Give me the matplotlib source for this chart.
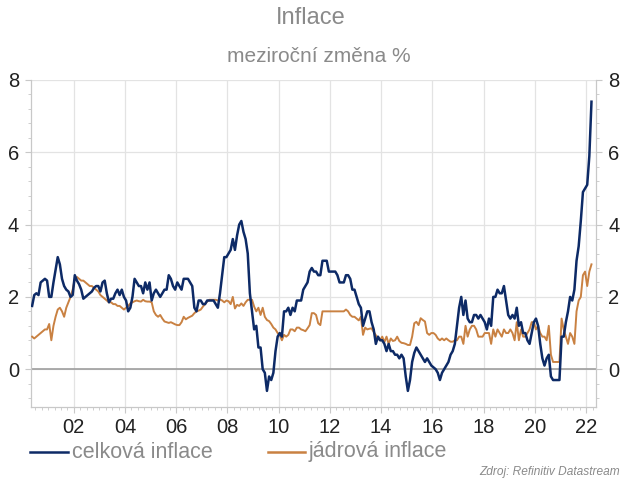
import numpy as np
import matplotlib
matplotlib.use('Agg')
import matplotlib.pyplot as plt
from matplotlib.ticker import MultipleLocator

plt.rcParams['font.family'] = ['Liberation Sans', 'DejaVu Sans']

# monthly data, May 2000 - Mar 2022 (y/y %)
start_year, start_month = 2000, 5

headline = [
  1.75, 2.05, 2.1, 2.05, 2.4, 2.45, 2.5, 2.45,                      # 2000 (May-Dec)
  2.0, 2.0, 2.4, 2.75, 3.1, 2.9, 2.5, 2.3, 2.2, 2.15, 2.0, 2.05,    # 2001
  2.6, 2.45, 2.35, 2.2, 1.95, 2.0, 2.05, 2.1, 2.15, 2.25, 2.3, 2.3, # 2002
  2.15, 2.4, 2.45, 2.1, 1.85, 1.95, 1.95, 2.1, 2.2, 2.05, 2.2, 2.0, # 2003
  1.9, 1.6, 1.7, 2.0, 2.5, 2.4, 2.3, 2.3, 2.1, 2.4, 2.2, 2.4,       # 2004
  1.9, 2.1, 2.2, 2.1, 2.0, 2.1, 2.2, 2.2, 2.6, 2.5, 2.3, 2.2,       # 2005
  2.4, 2.3, 2.2, 2.5, 2.5, 2.5, 2.4, 2.3, 1.7, 1.6, 1.9, 1.9,       # 2006
  1.8, 1.8, 1.9, 1.9, 1.9, 1.9, 1.8, 1.7, 2.1, 2.6, 3.1, 3.1,       # 2007
  3.2, 3.3, 3.6, 3.3, 3.7, 4.0, 4.1, 3.8, 3.6, 3.2, 2.1, 1.6,       # 2008
  1.1, 1.2, 0.6, 0.6, 0.0, -0.1, -0.6, -0.2, -0.3, -0.1, 0.5, 0.9,  # 2009
  1.0, 0.9, 1.6, 1.6, 1.7, 1.5, 1.7, 1.6, 1.9, 1.9, 1.9, 2.2,       # 2010
  2.3, 2.4, 2.7, 2.8, 2.7, 2.7, 2.6, 2.6, 3.0, 3.0, 3.0, 2.7,       # 2011
  2.7, 2.7, 2.7, 2.6, 2.4, 2.4, 2.4, 2.6, 2.6, 2.5, 2.2, 2.2,       # 2012
  2.0, 1.8, 1.7, 1.2, 1.4, 1.6, 1.6, 1.3, 1.1, 0.7, 0.9, 0.8,       # 2013
  0.8, 0.7, 0.5, 0.7, 0.5, 0.5, 0.4, 0.4, 0.3, 0.4, 0.3, -0.2,      # 2014
  -0.6, -0.3, 0.2, 0.45, 0.6, 0.5, 0.4, 0.3, 0.2, 0.3, 0.2, 0.1,    # 2015
  0.05, 0.0, -0.1, -0.3, -0.1, 0.0, 0.1, 0.2, 0.4, 0.5, 0.7, 1.2,   # 2016
  1.7, 2.0, 1.5, 1.9, 1.4, 1.3, 1.3, 1.5, 1.5, 1.4, 1.5, 1.4,       # 2017
  1.3, 1.1, 1.4, 1.2, 2.0, 2.0, 2.2, 2.1, 2.1, 2.3, 1.9, 1.5,       # 2018
  1.4, 1.5, 1.4, 1.7, 1.2, 1.3, 1.0, 1.0, 0.8, 0.7, 1.0, 1.3,       # 2019
  1.4, 1.2, 0.7, 0.3, 0.1, 0.3, 0.4, -0.2, -0.3, -0.3, -0.3, -0.3,  # 2020
  0.9, 0.9, 1.3, 1.6, 2.0, 1.9, 2.2, 3.0, 3.4, 4.1, 4.9, 5.0,       # 2021
  5.1, 5.9, 7.4,                                                    # 2022
]

core = [
  0.9, 0.85, 0.9, 0.95, 1.0, 1.05, 1.1, 1.1,                        # 2000 (May-Dec)
  1.25, 0.8, 1.2, 1.45, 1.65, 1.7, 1.6, 1.45, 1.7, 1.85, 2.0, 2.2,  # 2001
  2.5, 2.55, 2.5, 2.45, 2.45, 2.4, 2.35, 2.3, 2.3, 2.25, 2.2, 2.15, # 2002
  2.05, 2.0, 1.95, 1.9, 1.85, 1.85, 1.8, 1.8, 1.75, 1.75, 1.7, 1.65,# 2003
  1.7, 1.75, 1.82, 1.85, 1.88, 1.9, 1.88, 1.87, 1.92, 1.88, 1.87, 1.87, # 2004
  1.85, 1.6, 1.5, 1.45, 1.5, 1.4, 1.32, 1.3, 1.28, 1.3, 1.27, 1.24, # 2005
  1.22, 1.22, 1.3, 1.45, 1.38, 1.42, 1.45, 1.48, 1.55, 1.6, 1.62, 1.65, # 2006
  1.73, 1.8, 1.87, 1.92, 1.92, 1.92, 1.92, 1.9, 1.93, 1.9, 1.85, 1.9,   # 2007
  1.88, 1.8, 2.0, 1.68, 1.78, 1.75, 1.82, 1.75, 1.85, 1.92, 1.92, 1.92, # 2008
  1.73, 1.6, 1.7, 1.5, 1.7, 1.45, 1.36, 1.33, 1.25, 1.15, 1.1, 1.0,     # 2009
  0.95, 0.8, 0.95, 0.9, 0.95, 1.1, 1.1, 1.05, 1.15, 1.15, 1.1, 1.08,    # 2010
  1.05, 1.13, 1.22, 1.55, 1.55, 1.5, 1.27, 1.22, 1.6, 1.6, 1.6, 1.6,    # 2011
  1.6, 1.6, 1.6, 1.6, 1.6, 1.6, 1.6, 1.65, 1.6, 1.5, 1.45, 1.45,        # 2012
  1.4, 1.35, 1.45, 0.95, 1.15, 1.1, 1.12, 1.13, 1.03, 0.94, 0.85, 0.8,  # 2013
  0.9, 0.75, 0.9, 0.7, 0.85, 0.78, 0.8, 0.9, 0.78, 0.73, 0.72, 0.7,     # 2014
  0.67, 0.67, 0.9, 1.27, 1.31, 1.22, 1.41, 1.36, 1.32, 1.0, 0.95, 1.0,  # 2015
  1.0, 0.95, 0.85, 0.8, 0.85, 0.8, 0.85, 0.8, 0.76, 0.76, 0.8, 0.8,     # 2016
  0.9, 0.9, 0.7, 1.2, 0.9, 1.1, 1.2, 1.2, 1.1, 0.9, 0.9, 0.9,           # 2017
  1.0, 1.0, 1.0, 0.7, 1.1, 0.9, 1.1, 1.0, 0.9, 1.1, 1.0, 1.0,           # 2018
  1.1, 1.0, 0.8, 1.3, 0.8, 1.1, 0.9, 0.9, 1.0, 1.1, 1.3, 1.3,           # 2019
  1.1, 1.2, 1.0, 0.9, 0.9, 0.8, 1.2, 0.4, 0.2, 0.2, 0.2, 0.2,           # 2020
  1.4, 1.1, 0.9, 0.7, 1.0, 0.9, 0.7, 1.6, 1.9, 2.0, 2.6, 2.7,           # 2021
  2.3, 2.7, 2.9,                                                        # 2022
]

year_ticks = [2002, 2004, 2006, 2008, 2010, 2012, 2014, 2016, 2018, 2020, 2022]
year_labels = ['02', '04', '06', '08', '10', '12', '14', '16', '18', '20', '22']
y_ticks = [0, 2, 4, 6, 8]

labels = ['celková inflace', 'jádrová inflace']
title_1 = 'Inflace'
title_2 = 'meziroční změna %'
source = 'Zdroj: Refinitiv Datastream'

navy = '#0d2a66'
orange = '#c98142'
grey_text = '#8a8a8a'
grid_color = '#e3e3e3'
spine_color = '#c8c8c8'

n = len(headline)
t = start_year + (start_month - 1 + 0.5 + np.arange(n)) / 12.0

fig = plt.figure(figsize=(6.22, 4.79), dpi=100)
ax = fig.add_axes([0.0506, 0.150, 0.9074, 0.683])

ax.plot(t, core, color=orange, lw=1.4, zorder=3)
ax.plot(t, headline, color=navy, lw=1.8, zorder=4)
ax.axhline(0, color='#9e9e9e', lw=1.2, zorder=2)

ax.set_xlim(2000.35, 2022.38)
ax.set_ylim(-1.05, 8.0)

ax.set_xticks(year_ticks)
ax.set_xticklabels(year_labels)
ax.xaxis.set_minor_locator(MultipleLocator(0.25))
ax.set_yticks(y_ticks)
ax.yaxis.set_minor_locator(MultipleLocator(0.4))

ax.grid(True, which='major', color=grid_color, lw=0.9, zorder=0)
ax.set_axisbelow(True)

for side in ['left', 'right', 'bottom']:
  ax.spines[side].set_color(spine_color)
  ax.spines[side].set_linewidth(0.9)
ax.spines['top'].set_visible(False)

ax.tick_params(axis='both', which='major', labelsize=14.5, colors=spine_color, labelcolor='#222222', length=4, width=0.8)
ax.tick_params(axis='both', which='minor', colors=spine_color, length=2.5, width=0.6)
ax.tick_params(axis='y', which='both', left=True, right=True, labelleft=True, labelright=True, pad=5)
ax.tick_params(axis='x', which='major', pad=4)

fig.text(0.5, 1 - 18 / 479., title_1, ha='center', va='center', fontsize=17, color=grey_text)
fig.text(0.512, 1 - 57 / 479., title_2, ha='center', va='center', fontsize=15, color=grey_text)

# legend under the chart
leg_y = 1 - 452 / 479.
fig.add_artist(plt.Line2D([30 / 622., 68 / 622.], [leg_y, leg_y], color=navy, lw=1.8))
fig.text(72 / 622., leg_y, labels[0], ha='left', va='center', fontsize=15.5, color=grey_text)
fig.add_artist(plt.Line2D([268 / 622., 305 / 622.], [leg_y, leg_y], color=orange, lw=1.8))
fig.text(309 / 622., leg_y, labels[1], ha='left', va='center', fontsize=15.5, color=grey_text)

fig.text(620 / 622., 1 - 472 / 479., source, ha='right', va='center', fontsize=8.6, style='italic', color=grey_text)

fig.savefig('out.png', dpi=100)
